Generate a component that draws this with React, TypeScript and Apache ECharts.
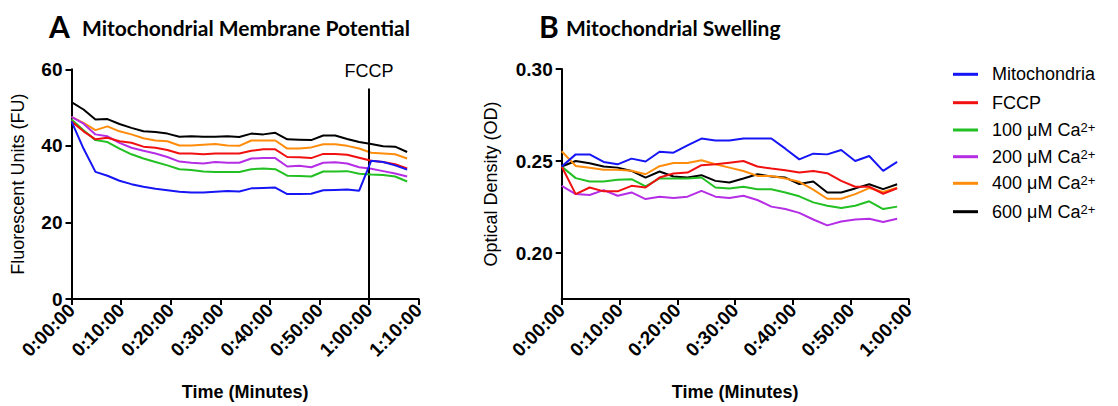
import React, { useEffect, useRef } from "react";
import * as echarts from "echarts";

// Time points (minutes)
const timesA = [0, 2.42, 4.83, 7.25, 9.67, 12.08, 14.5, 16.92, 19.33, 21.75, 24.17, 26.58, 29, 31.42, 33.83, 36.25, 38.67, 41.08, 43.5, 45.92, 48.33, 50.75, 53.17, 55.58, 58, 60.42, 62.83, 65.25, 67.67];
const timesB = timesA.slice(0, 25);

const seriesNames = ["Mitochondria", "FCCP", "100 μM Ca2+", "200 μM Ca2+", "400 μM Ca2+", "600 μM Ca2+"];
const colors = ["#1515f5", "#f01010", "#22c022", "#b52ee6", "#ff8c0a", "#000000"];

// Panel A: Fluorescent Units (FU)
const blueA = [46.4, 39.3, 33.2, 32.2, 30.9, 30.0, 29.3, 28.8, 28.4, 28.0, 27.8, 27.8, 28.0, 28.2, 28.1, 28.9, 29.0, 29.1, 27.4, 27.4, 27.5, 28.4, 28.5, 28.6, 28.3, 36.1, 35.8, 34.9, 33.8];
const redA = [46.4, 43.8, 41.7, 42.1, 41.2, 40.8, 39.8, 39.5, 38.9, 38.0, 38.0, 37.8, 38.0, 38.0, 38.0, 38.7, 39.1, 39.1, 37.1, 37.0, 36.8, 37.9, 37.9, 37.7, 36.9, 36.1, 35.8, 35.2, 34.1];
const greenA = [46.9, 44.1, 41.5, 41.0, 39.3, 37.8, 36.7, 35.8, 34.9, 33.9, 33.7, 33.3, 33.2, 33.2, 33.2, 33.9, 34.1, 33.9, 32.2, 32.1, 32.0, 33.3, 33.3, 33.4, 32.7, 32.5, 32.4, 32.0, 30.7];
const purpleA = [47.6, 45.8, 43.0, 42.5, 40.8, 39.5, 38.7, 38.0, 37.1, 35.9, 35.6, 35.4, 35.8, 35.6, 35.6, 36.7, 36.8, 36.8, 34.6, 34.8, 34.4, 35.6, 35.7, 35.4, 34.4, 34.0, 33.4, 32.8, 32.0];
const orangeA = [47.6, 46.0, 44.1, 45.1, 43.8, 43.0, 42.0, 41.4, 41.2, 40.1, 40.1, 40.3, 40.5, 40.1, 40.0, 41.4, 41.4, 41.4, 39.3, 39.3, 39.6, 40.4, 40.4, 40.0, 39.3, 38.2, 38.0, 37.8, 36.7];
const blackA = [51.4, 49.5, 46.9, 47.0, 45.7, 44.7, 43.8, 43.6, 43.2, 42.4, 42.5, 42.4, 42.4, 42.5, 42.3, 43.2, 43.0, 43.4, 41.7, 41.6, 41.5, 42.7, 42.7, 41.8, 41.0, 40.5, 39.9, 39.8, 38.4];

// Panel B: Optical Density (OD)
const blueB = [0.247, 0.2536, 0.2536, 0.2495, 0.2482, 0.2513, 0.2497, 0.255, 0.2545, 0.2585, 0.2622, 0.2612, 0.2612, 0.2622, 0.2622, 0.2622, 0.2567, 0.2509, 0.254, 0.2536, 0.256, 0.25, 0.2527, 0.2446, 0.2495];
const redB = [0.247, 0.232, 0.2356, 0.2335, 0.2335, 0.2365, 0.2356, 0.241, 0.2432, 0.2437, 0.2477, 0.2482, 0.2491, 0.25, 0.247, 0.2459, 0.245, 0.2437, 0.2446, 0.2434, 0.2392, 0.236, 0.236, 0.2322, 0.2352];
const greenB = [0.247, 0.2407, 0.2389, 0.2389, 0.2398, 0.2401, 0.2362, 0.2405, 0.2405, 0.2405, 0.241, 0.2356, 0.2351, 0.236, 0.2347, 0.2347, 0.2329, 0.2308, 0.2275, 0.2257, 0.2245, 0.2257, 0.2281, 0.2239, 0.2252];
const purpleB = [0.2365, 0.232, 0.2315, 0.2342, 0.2311, 0.2329, 0.2293, 0.2306, 0.2299, 0.2306, 0.2338, 0.2306, 0.2299, 0.2311, 0.2288, 0.2252, 0.2239, 0.2218, 0.2182, 0.215, 0.2171, 0.2182, 0.2186, 0.2168, 0.2186];
const orangeB = [0.2553, 0.2473, 0.2463, 0.2452, 0.2452, 0.2447, 0.2428, 0.2472, 0.2489, 0.2489, 0.2504, 0.2482, 0.2464, 0.2446, 0.2419, 0.2419, 0.2405, 0.2387, 0.2344, 0.2295, 0.2295, 0.232, 0.2353, 0.2332, 0.2355];
const blackB = [0.247, 0.25, 0.2488, 0.247, 0.2464, 0.2446, 0.241, 0.2443, 0.2416, 0.241, 0.2423, 0.2392, 0.2383, 0.2405, 0.2428, 0.2416, 0.241, 0.2375, 0.2389, 0.2329, 0.2329, 0.2351, 0.2374, 0.2347, 0.2374];

const valuesA = [blueA, redA, greenA, purpleA, orangeA, blackA];
const valuesB = [blueB, redB, greenB, purpleB, orangeB, blackB];

const fccpTime = 60;
const xTicksA = { min: 0, max: 70, interval: 10 };
const xTicksB = { min: 0, max: 60, interval: 10 };
const yTicksA = { min: 0, max: 60, interval: 20 };
const yLabelsB = [0.2, 0.25, 0.3];
const yRangeB = { min: 0.175, max: 0.3 };

const FONT = "Liberation Sans";
const TITLE_FONT = "Lato";

function fmtTime(v: number) {
  const h = Math.floor(v / 60);
  const m = Math.round(v - h * 60);
  return `${h}:${m < 10 ? "0" + m : m}:00`;
}

export default function App() {
  const ref = useRef<HTMLDivElement>(null);
  useEffect(() => {
    if (!ref.current) return;
    const chart = echarts.init(ref.current, null, { renderer: "svg" });
    const axisLine = { show: true, lineStyle: { color: "#000", width: 2 } };
    const axisTick = { show: true, length: 6, lineStyle: { color: "#000", width: 2 } };
    const yTickLabel = { color: "#000", fontFamily: FONT, fontSize: 19, fontWeight: "bold" as const };
    const xTickLabel = { color: "#000", fontFamily: FONT, fontSize: 19, fontWeight: "bold" as const };
    const xName = { color: "#000", fontFamily: FONT, fontSize: 18, fontWeight: "bold" as const };
    const yName = { color: "#000", fontFamily: FONT, fontSize: 18 };

    const series: any[] = [];
    valuesA.forEach((vals, i) => {
      const s: any = {
        name: seriesNames[i],
        type: "line",
        xAxisIndex: 0,
        yAxisIndex: 0,
        symbol: "none",
        data: vals.map((v, k) => [timesA[k], v]),
        lineStyle: { color: colors[i], width: 2 },
        itemStyle: { color: colors[i] },
        z: 2 + (5 - i),
      };
      if (i === 0) {
        s.markLine = {
          silent: true,
          symbol: "none",
          lineStyle: { color: "#000", width: 2, type: "solid" },
          label: {
            show: true,
            position: "end",
            formatter: "FCCP",
            color: "#000",
            fontFamily: FONT,
            fontSize: 18,
            distance: 8,
          },
          data: [[{ coord: [fccpTime, 0] }, { coord: [fccpTime, 55] }]],
        };
      }
      series.push(s);
    });
    valuesB.forEach((vals, i) => {
      series.push({
        name: seriesNames[i],
        type: "line",
        xAxisIndex: 1,
        yAxisIndex: 1,
        symbol: "none",
        data: vals.map((v, k) => [timesB[k], v]),
        lineStyle: { color: colors[i], width: 2 },
        itemStyle: { color: colors[i] },
        z: 2 + (5 - i),
      });
    });

    const legendTops = [65.3, 93.7, 121, 147.7, 174.3, 202.7];
    const legends = seriesNames.map((name, i) => ({
      data: [name],
      left: 953,
      top: legendTops[i],
      padding: 0,
      orient: "vertical",
      icon: "rect",
      itemWidth: 25,
      itemHeight: 3,
      selectedMode: false,
      formatter: (n: string) => (n.endsWith("Ca2+") ? n.replace("Ca2+", "Ca{sup|2+}") : n),
      textStyle: {
        color: "#000",
        fontFamily: FONT,
        fontSize: 18,
        lineHeight: 18,
        padding: [0, 0, 0, 9],
        rich: {
          sup: { fontFamily: FONT, fontSize: 13, lineHeight: 4, verticalAlign: "top", color: "#000" },
        },
      },
    }));

    chart.setOption({
      animation: false,
      backgroundColor: "#fff",
      grid: [
        { left: 71.5, top: 69.3, width: 347.2, height: 231.4 },
        { left: 561.7, top: 69, width: 347, height: 231.7 },
      ],
      xAxis: [
        {
          type: "value",
          gridIndex: 0,
          ...xTicksA,
          axisLine,
          axisTick,
          splitLine: { show: false },
          axisLabel: { ...xTickLabel, rotate: 45, margin: 8, formatter: fmtTime },
          name: "Time (Minutes)",
          nameLocation: "middle",
          nameGap: 84,
          nameTextStyle: xName,
        },
        {
          type: "value",
          gridIndex: 1,
          ...xTicksB,
          axisLine,
          axisTick,
          splitLine: { show: false },
          axisLabel: { ...xTickLabel, rotate: 45, margin: 8, formatter: fmtTime },
          name: "Time (Minutes)",
          nameLocation: "middle",
          nameGap: 84,
          nameTextStyle: xName,
        },
      ],
      yAxis: [
        {
          type: "value",
          gridIndex: 0,
          ...yTicksA,
          axisLine,
          axisTick,
          splitLine: { show: false },
          axisLabel: { ...yTickLabel, margin: 9 },
          name: "Fluorescent Units (FU)",
          nameLocation: "middle",
          nameGap: 45,
          nameTextStyle: yName,
        },
        {
          type: "value",
          gridIndex: 1,
          ...yRangeB,
          axisLine,
          axisTick: { ...axisTick, customValues: yLabelsB },
          splitLine: { show: false },
          axisLabel: {
            ...yTickLabel,
            margin: 9,
            customValues: yLabelsB,
            formatter: (v: number) => v.toFixed(2),
          },
          name: "Optical Density (OD)",
          nameLocation: "middle",
          nameGap: 62,
          nameTextStyle: yName,
        },
      ],
      legend: legends,
      graphic: [
        { type: "text", left: 49, top: 11, style: { text: "A", font: `bold 30px ${TITLE_FONT}`, fill: "#000" } },
        { type: "text", left: 82, top: 17, style: { text: "Mitochondrial Membrane Potential", font: `bold 21px ${TITLE_FONT}`, fill: "#000" } },
        { type: "text", left: 539, top: 11, style: { text: "B", font: `bold 30px ${TITLE_FONT}`, fill: "#000" } },
        { type: "text", left: 566, top: 17, style: { text: "Mitochondrial Swelling", font: `bold 21px ${TITLE_FONT}`, fill: "#000" } },
      ],
      series,
    });
    return () => chart.dispose();
  }, []);
  return (
    <div
      ref={ref}
      style={{ position: "fixed", left: 0, top: 0, width: 1118, height: 406, background: "#fff" }}
    />
  );
}
